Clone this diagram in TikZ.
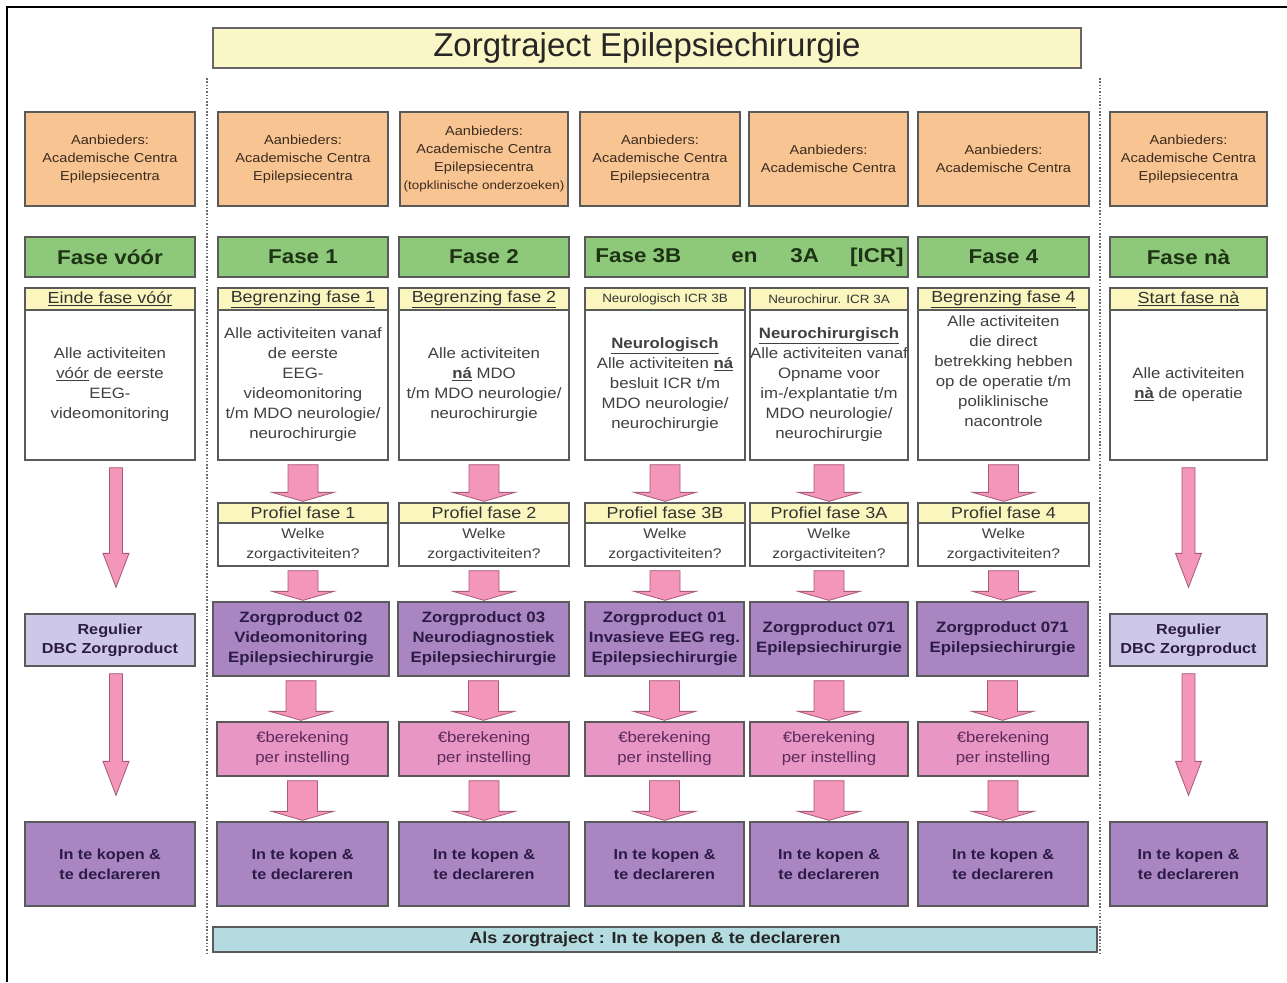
\documentclass[tikz,border=0pt]{standalone}
\usepackage{fontspec}
\setmainfont{Liberation Sans}[FakeStretch=1.12]
\newfontfamily\titlefont{Liberation Sans}
\usetikzlibrary{calc}
\definecolor{bordergray}{HTML}{5A5A5A}
\definecolor{orangefill}{HTML}{F8C491}
\definecolor{orangetext}{HTML}{3B2B20}
\definecolor{greenfill}{HTML}{8EC97B}
\definecolor{greentext}{HTML}{1E3214}
\definecolor{yellowfill}{HTML}{FAF6BE}
\definecolor{titlefill}{HTML}{FBF6C6}
\definecolor{purplefill}{HTML}{A985C2}
\definecolor{purpletext}{HTML}{2B1B45}
\definecolor{pinkfill}{HTML}{E896C4}
\definecolor{pinktext}{HTML}{5C2A5C}
\definecolor{lavfill}{HTML}{CDC8E8}
\definecolor{bluefill}{HTML}{B4DCE0}
\definecolor{arrowpink}{HTML}{F396B9}
\definecolor{arrowedge}{HTML}{A85A78}
\definecolor{dotgray}{HTML}{6A6A6A}
\newcommand\fatarrow[2]{%
  \draw[fatarr] let \p1=(#1.south), \p2=(#2.north) in
  (\x1-15,\y1-4) -- (\x1-15,\y2+10) -- (\x1-31,\y2+10) -- (\x1,\y2+1) --
  (\x1+31,\y2+10) -- (\x1+15,\y2+10) -- (\x1+15,\y1-4) -- cycle;}
\newcommand\thinarrow[3]{%
  \draw[thinarr] let \p1=(#1.south), \p2=(#2.north) in
  (\x1+#3-6.5,\y1-7) -- (\x1+#3-6.5,\y2+60) -- (\x1+#3-13,\y2+60) -- (\x1+#3,\y2+26) --
  (\x1+#3+13,\y2+60) -- (\x1+#3+6.5,\y2+60) -- (\x1+#3+6.5,\y1-7) -- cycle;}
\begin{document}
\begin{tikzpicture}[x=1pt,y=1pt,
  box/.style={draw=bordergray, line width=1.3pt, inner sep=0pt, align=center},
  orangebox/.style={box, fill=orangefill, text=orangetext, font=\fontsize{13}{18}\selectfont, minimum height=94},
  greenbox/.style={box, fill=greenfill, text=greentext, font=\bfseries\fontsize{20}{24}\selectfont, minimum height=40},
  hdr/.style={box, fill=yellowfill, text=black!80, font=\fontsize{16}{20}\selectfont, minimum height=22},
  smallhdr/.style={hdr, font=\fontsize{12}{16}\selectfont},
  bodybox/.style={box, fill=white, text=black!75, font=\fontsize{15}{20}\selectfont, minimum height=150},
  profhdr/.style={box, fill=yellowfill, text=black!80, font=\fontsize{16}{20}\selectfont, minimum height=20},
  profbody/.style={box, fill=white, text=black!75, font=\fontsize{14}{20}\selectfont, minimum height=43},
  zpbox/.style={box, fill=purplefill, text=purpletext, font=\bfseries\fontsize{15}{20}\selectfont, minimum height=74},
  regbox/.style={box, fill=lavfill, text=purpletext, font=\bfseries\fontsize{14.5}{19}\selectfont, minimum height=52},
  berbox/.style={box, fill=pinkfill, text=pinktext, font=\fontsize{15}{20}\selectfont, minimum height=54},
  koopbox/.style={box, fill=purplefill, text=purpletext, font=\bfseries\fontsize{14.5}{20}\selectfont, minimum height=84},
  fatarr/.style={fill=arrowpink, draw=arrowedge, line width=0.8pt, line join=miter},
  thinarr/.style={fill=arrowpink, draw=arrowedge, line width=0.8pt, line join=miter},
  sep/.style={draw=dotgray, line width=1.3pt, dash pattern=on 1.5pt off 1.8pt}
]
\useasboundingbox (0,0) rectangle (1287,-982);
\fill[white] (0,0) rectangle (1287,-982);
\draw[line width=2pt] (7,-982) -- (7,-7) -- (1287,-7);

% dotted separators
\coordinate (s1t) at (207,-78); \coordinate (s1b) at (207,-955);
\coordinate (s2t) at (1100,-78); \coordinate (s2b) at (1100,-955);
\draw[sep] (s1t) -- (s1b);
\draw[sep] (s2t) -- (s2b);

% title
\node[box, fill=titlefill, draw=gray!80!black, minimum width=868, minimum height=40, font=\titlefont\fontsize{33}{36}\selectfont, text=black!85] (title) at (647,-48) {Zorgtraject Epilepsiechirurgie};

% orange provider boxes
\node[orangebox, minimum width=170] (o0) at (110,-159) {Aanbieders:\\Academische Centra\\Epilepsiecentra};
\node[orangebox, minimum width=170] (o1) at (303,-159) {Aanbieders:\\Academische Centra\\Epilepsiecentra};
\node[orangebox, minimum width=168] (o2) at (484,-159) {Aanbieders:\\Academische Centra\\Epilepsiecentra\\{\fontsize{12}{18}\selectfont(topklinische onderzoeken)}};
\node[orangebox, minimum width=160] (o3b) at (660,-159) {Aanbieders:\\Academische Centra\\Epilepsiecentra};
\node[orangebox, minimum width=159] (o3a) at (828.5,-159) {Aanbieders:\\Academische Centra};
\node[orangebox, minimum width=171] (o4) at (1003.5,-159) {Aanbieders:\\Academische Centra};
\node[orangebox, minimum width=157] (on) at (1188.5,-159) {Aanbieders:\\Academische Centra\\Epilepsiecentra};

% green phase bars
\node[greenbox, minimum width=170] (g0) at (110,-257) {Fase vóór};
\node[greenbox, minimum width=170] (g1) at (303,-257) {Fase 1};
\node[greenbox, minimum width=170] (g2) at (484,-257) {Fase 2};
\node[greenbox, minimum width=323] (g3) at (746.5,-257) {\hspace{6pt}Fase 3B\hspace{50pt}en\hspace{33pt}3A\hspace{31pt}[ICR]};
\node[greenbox, minimum width=171] (g4) at (1003.5,-257) {Fase 4};
\node[greenbox, minimum width=157] (gn) at (1188.5,-257) {Fase nà};

% phase description headers
\node[hdr, minimum width=170] (h0) at (110,-299) {\underline{Einde fase vóór}};
\node[hdr, minimum width=170] (h1) at (303,-299) {\underline{Begrenzing fase 1}};
\node[hdr, minimum width=170] (h2) at (484,-299) {\underline{Begrenzing fase 2}};
\node[smallhdr, minimum width=160] (h3b) at (665,-299) {Neurologisch ICR 3B};
\node[smallhdr, minimum width=158] (h3a) at (829,-299) {Neurochirur. ICR 3A};
\node[hdr, minimum width=171] (h4) at (1003.5,-299) {\underline{Begrenzing fase 4}};
\node[hdr, minimum width=157] (hn) at (1188.5,-299) {\underline{Start fase nà}};

% phase description bodies
\node[bodybox, minimum width=170] (b0) at (110,-385) {Alle activiteiten\\\underline{vóór} de eerste\\EEG-\\videomonitoring};
\node[bodybox, minimum width=170] (b1) at (303,-385) {Alle activiteiten vanaf\\de eerste\\EEG-\\videomonitoring\\t/m MDO neurologie/\\neurochirurgie};
\node[bodybox, minimum width=170] (b2) at (484,-385) {Alle activiteiten\\\underline{\textbf{ná}} MDO\\t/m MDO neurologie/\\neurochirurgie};
\node[bodybox, minimum width=160] (b3b) at (665,-385) {\underline{\textbf{Neurologisch}}\\Alle activiteiten \underline{\textbf{ná}}\\besluit ICR t/m\\MDO neurologie/\\neurochirurgie};
\node[bodybox, minimum width=158] (b3a) at (829,-385) {\underline{\textbf{Neurochirurgisch}}\\Alle activiteiten vanaf\\Opname voor\\im-/explantatie t/m\\MDO neurologie/\\neurochirurgie};
\node[bodybox, minimum width=171] (b4) at (1003.5,-385) {Alle activiteiten\\die direct\\betrekking hebben\\op de operatie t/m\\poliklinische\\nacontrole\\[8pt]};
\node[bodybox, minimum width=157] (bn) at (1188.5,-385) {Alle activiteiten\\\underline{\textbf{nà}} de operatie};

% profile boxes
\node[profhdr, minimum width=170] (ph1) at (303,-513) {Profiel fase 1};
\node[profhdr, minimum width=170] (ph2) at (484,-513) {Profiel fase 2};
\node[profhdr, minimum width=160] (ph3b) at (665,-513) {Profiel fase 3B};
\node[profhdr, minimum width=158] (ph3a) at (829,-513) {Profiel fase 3A};
\node[profhdr, minimum width=171] (ph4) at (1003.5,-513) {Profiel fase 4};
\node[profbody, minimum width=170] (pb1) at (303,-544.5) {Welke\\zorgactiviteiten?};
\node[profbody, minimum width=170] (pb2) at (484,-544.5) {Welke\\zorgactiviteiten?};
\node[profbody, minimum width=160] (pb3b) at (665,-544.5) {Welke\\zorgactiviteiten?};
\node[profbody, minimum width=158] (pb3a) at (829,-544.5) {Welke\\zorgactiviteiten?};
\node[profbody, minimum width=171] (pb4) at (1003.5,-544.5) {Welke\\zorgactiviteiten?};

% zorgproducten
\node[zpbox, minimum width=176] (z1) at (301,-639) {Zorgproduct 02\\Videomonitoring\\Epilepsiechirurgie};
\node[zpbox, minimum width=171] (z2) at (483.5,-639) {Zorgproduct 03\\Neurodiagnostiek\\Epilepsiechirurgie};
\node[zpbox, minimum width=159] (z3b) at (664.5,-639) {Zorgproduct 01\\Invasieve EEG reg.\\Epilepsiechirurgie};
\node[zpbox, minimum width=158] (z3a) at (829,-639) {Zorgproduct 071\\Epilepsiechirurgie};
\node[zpbox, minimum width=171] (z4) at (1002.5,-639) {Zorgproduct 071\\Epilepsiechirurgie};
\node[regbox, minimum width=170] (r0) at (110,-640) {Regulier\\DBC Zorgproduct};
\node[regbox, minimum width=157] (rn) at (1188.5,-640) {Regulier\\DBC Zorgproduct};

% berekening
\node[berbox, minimum width=171] (e1) at (302.5,-749) {€berekening\\per instelling};
\node[berbox, minimum width=170] (e2) at (484,-749) {€berekening\\per instelling};
\node[berbox, minimum width=159] (e3b) at (664.5,-749) {€berekening\\per instelling};
\node[berbox, minimum width=158] (e3a) at (829,-749) {€berekening\\per instelling};
\node[berbox, minimum width=170] (e4) at (1003,-749) {€berekening\\per instelling};

% in te kopen
\node[koopbox, minimum width=170] (k0) at (110,-864) {In te kopen \&\\te declareren};
\node[koopbox, minimum width=171] (k1) at (302.5,-864) {In te kopen \&\\te declareren};
\node[koopbox, minimum width=170] (k2) at (484,-864) {In te kopen \&\\te declareren};
\node[koopbox, minimum width=159] (k3b) at (664.5,-864) {In te kopen \&\\te declareren};
\node[koopbox, minimum width=158] (k3a) at (829,-864) {In te kopen \&\\te declareren};
\node[koopbox, minimum width=170] (k4) at (1003,-864) {In te kopen \&\\te declareren};
\node[koopbox, minimum width=157] (kn) at (1188.5,-864) {In te kopen \&\\te declareren};

% bottom bar
\node[box, fill=bluefill, minimum width=884, minimum height=25, text=black!85, font=\bfseries\fontsize{16}{18}\selectfont] (bar) at (655,-939.5) {Als zorgtraject : In te kopen \& te declareren};

% fat arrows
\foreach \a/\b in {b1/ph1,b2/ph2,b3b/ph3b,b3a/ph3a,b4/ph4,
                   pb1/z1,pb2/z2,pb3b/z3b,pb3a/z3a,pb4/z4,
                   z1/e1,z2/e2,z3b/e3b,z3a/e3a,z4/e4,
                   e1/k1,e2/k2,e3b/k3b,e3a/k3a,e4/k4}{\fatarrow{\a}{\b}}

% thin long arrows
\thinarrow{b0}{r0}{6}
\thinarrow{r0}{k0}{6}
\thinarrow{bn}{rn}{0}
\thinarrow{rn}{kn}{0}
\end{tikzpicture}
\end{document}
